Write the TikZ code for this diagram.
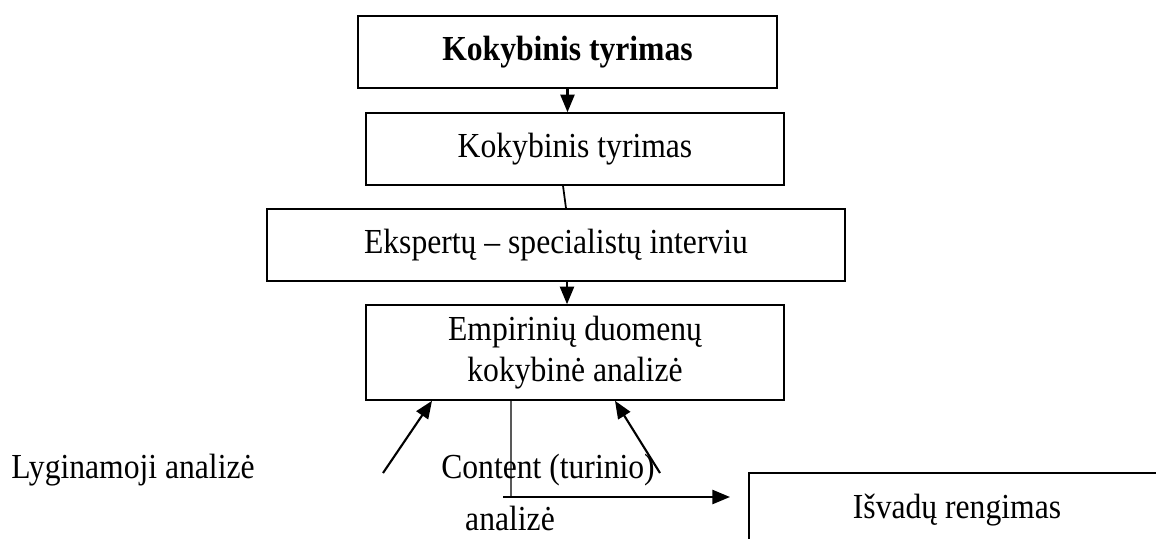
\documentclass[tikz,border=0pt]{standalone}
\usepackage{fontspec}
\setmainfont{Liberation Serif}[FakeStretch=0.9]
\usetikzlibrary{arrows.meta,calc}
\tikzset{box/.style={draw,line width=0.9pt,inner sep=0pt,align=center,font=\fontsize{20}{21}\selectfont},
         txt/.style={inner sep=0pt,anchor=base,font=\fontsize{20}{21}\selectfont},
         arr/.style={line width=1.2pt,-{Triangle[length=10pt,width=8pt]}}}

\begin{document}
\begin{tikzpicture}[x=0.02cm,y=-0.02cm]
            \clip (0,0) rectangle (1156,538);
            \node[box,minimum width=8.38cm,minimum height=1.44cm,font=\fontsize{20}{21}\selectfont\bfseries] (tyr1) at (567.5,52) {Kokybinis tyrimas};
            \node[box,minimum width=8.36cm,minimum height=1.44cm] (tyr2) at (575,149) {Kokybinis tyrimas};
            \node[box,minimum width=11.56cm,minimum height=1.44cm] (eksp) at (556,245) {Ekspertų – specialistų interviu};
            \node[box,minimum width=8.36cm,minimum height=1.9cm] (emp) at (575,352.5) {Empirinių duomenų\\[2pt]kokybinė analizė};
            \node[box,minimum width=8.32cm,minimum height=1.5cm] (isv) at (957,510.5) {Išvadų rengimas};
            \node[txt] (lyg) at (133,478) {Lyginamoji analizė};
            \node[txt] (cont) at (548,478) {Content (turinio)};
            \node[txt] (anal) at (510,530) {analizė};
            \coordinate (ltail) at (383,473);
            \coordinate (rtail) at (660,473);
            \coordinate (turn) at (511,497);
            \coordinate (hstart) at (503,497);
            \coordinate (htip) at (730,497);
            \draw[arr] (tyr1.south) -- (tyr1.south |- tyr2.north);
            \draw[line width=1pt] ([xshift=-0.24cm]tyr2.south) -- ([xshift=0.2cm]eksp.north);
            \draw[arr] ([xshift=-0.16cm]emp.north |- eksp.south) -- ([xshift=-0.16cm]emp.north);
            \draw[arr] (ltail) -- ([xshift=-2.86cm]emp.south);
            \draw[arr] (rtail) -- ([xshift=0.8cm]emp.south);
            \draw[line width=0.7pt] ([xshift=-1.28cm]emp.south) -- (turn);
            \draw[arr] (hstart) -- (htip);
        \end{tikzpicture}
\end{document}
